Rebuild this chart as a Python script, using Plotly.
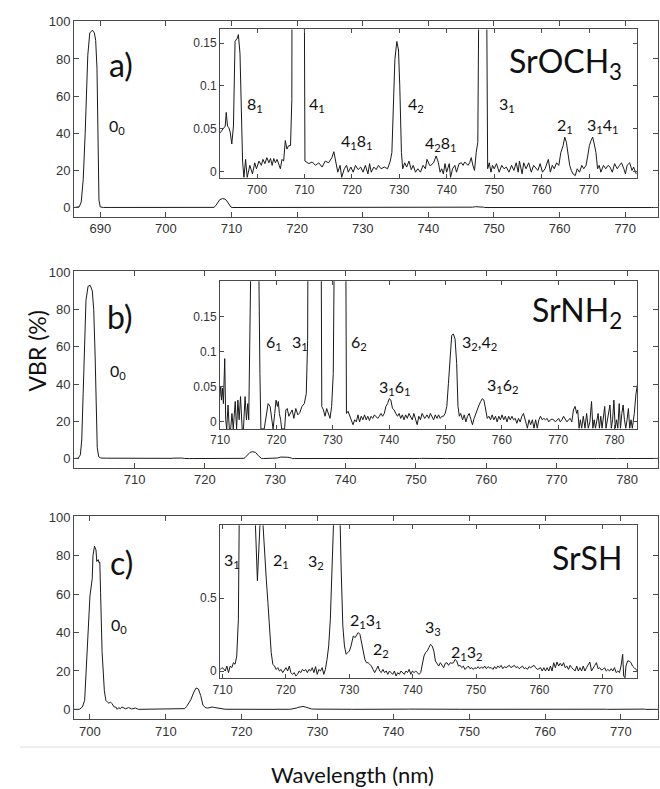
import plotly.graph_objects as go

W, H = 660, 789

# ---------------- data (wavelength in nm, VBR in %) ----------------
# Panel a : SrOCH3
wl_a = [686.0, 686.5, 686.8, 687.1, 687.4, 687.7, 687.9, 688.1, 688.4, 688.8, 689.1, 689.3, 689.5, 689.6,
        689.7, 689.8, 690.0, 690.5, 691.5,
        692.25, 692.80, 693.29, 693.50, 693.77, 694.05, 694.33, 694.67, 695.02, 695.36, 695.85, 696.06,
        696.40, 696.95, 697.23, 697.58, 697.92, 698.48, 699.03, 699.51, 699.86, 700.41, 700.90, 701.24,
        701.66, 702.07, 702.49, 702.83, 703.18, 703.52, 703.87, 704.22, 704.56, 704.91, 705.25, 705.60,
        705.95, 706.29, 706.64, 707.05, 707.33, 707.6, 707.9, 708.2, 708.6, 709.0, 709.3, 709.6, 709.9,
        710.09, 710.92, 711.62, 712.31, 713.0, 713.69, 714.38, 715.07, 715.77, 716.18, 716.6, 717.01,
        717.5, 717.84, 718.39, 718.88, 719.22, 719.78, 720.26, 720.75, 721.3, 721.85, 722.34, 722.82,
        723.37, 723.72, 724.07, 724.62, 725.1, 725.59, 726.14, 726.83, 727.52, 728.08, 728.42, 728.7,
        729.05, 729.46, 729.81, 730.08, 730.43, 730.7, 731.12, 731.54, 732.02, 732.5, 732.92, 733.4,
        733.89, 734.44, 734.99, 735.48, 735.82, 736.38, 736.64, 737.2, 737.75, 738.23, 738.58, 738.92,
        739.27, 739.62, 739.96, 740.51, 740.79, 741.21, 741.69, 742.04, 742.59, 743.07, 743.42, 743.77,
        744.11, 744.46, 744.8, 745.15, 745.49, 745.84, 746.19, 746.53, 746.74, 747.2, 747.6, 748.0,
        748.4, 748.61, 748.95, 749.3, 749.64, 749.99, 750.47, 751.03, 751.58, 752.06, 752.55, 753.1,
        753.65, 754.14, 754.62, 755.04, 755.31, 755.87, 756.21, 756.7, 757.25, 757.8, 758.29, 758.77,
        759.19, 759.67, 760.16, 760.71, 761.4, 761.82, 762.23, 762.65, 763.13, 763.61, 764.03, 764.51,
        764.86, 765.2, 765.55, 765.9, 766.24, 766.59, 767.07, 767.49, 767.97, 768.45, 768.87, 769.35,
        769.7, 770.05, 770.39, 770.74, 771.08, 771.43, 771.78, 772.12, 772.47, 773.02, 773.5, 773.99,
        774.4, 774.89, 775.37, 775.92, 776.41, 776.82, 777.31, 777.65, 778.0, 778.55, 779.03, 779.38,
        779.93]
vbr_a = [0, 0.1, 0.4, 3, 15, 40, 65, 82, 94, 95.5, 94, 90, 75, 55,
         25, 4, 0.3, 0.05, 0.04,
         0.045, 0.049, 0.053, 0.069, 0.053, 0.051, 0.046, 0.032, 0.053, 0.152, 0.156, 0.160,
         0.138, 0.011, -0.007, 0.014, -0.007, 0.007, -0.003, 0.010, 0.003, 0.012, 0.007, 0.014,
         0.009, 0.016, 0.010, 0.015, 0.007, 0.015, 0.010, 0.014, 0.007, 0.003, 0.014, 0.012,
         0.036, 0.026, 0.030, 0.030, 0.084, 1.0, 2.5, 4.2, 4.8, 4.6, 3.5, 1.5, 0.3,
         0.012, 0.009, 0.011, 0.007, 0.010, 0.005, 0.012, 0.010, 0.016, 0.023, 0.012, -0.001,
         0.007, -0.007, 0.003, 0.007, -0.001, 0.005, -0.001, 0.007, 0.002, 0.005, -0.001, 0.007,
         -0.003, 0.009, -0.001, 0.005, 0.002, 0.007, 0.003, 0.005, 0.003, 0.012, 0.022, 0.073,
         0.131, 0.152, 0.142, 0.100, 0.022, 0.003, 0.010, 0.005, 0.012, 0.002, 0.007, -0.001,
         0.003, -0.001, 0.007, 0.003, 0.014, 0.007, 0.007, 0.010, 0.018, 0.010, -0.001, 0.003,
         -0.003, 0.009, -0.001, 0.009, -0.007, 0.003, 0.007, -0.001, 0.009, 0.010, 0.007, 0.011,
         0.009, 0.007, 0.010, 0.016, 0.007, 0.001, 0.022, 0.034, 0.2, 0.45, 0.5, 0.45,
         0.2, 0.003, 0.010, -0.001, 0.007, 0.003, 0.009, -0.001, 0.007, 0.003, 0.005, -0.001,
         0.007, 0.001, 0.010, -0.001, 0.012, -0.003, 0.010, 0.003, 0.010, -0.001, 0.007, 0.003,
         0.001, 0.009, -0.001, 0.003, 0.014, -0.001, 0.007, 0.003, 0.010, 0.007, 0.022, 0.030,
         0.040, 0.034, 0.022, 0.007, 0.001, -0.003, -0.005, 0.003, -0.001, 0.007, 0.003, 0.007,
         0.018, 0.030, 0.036, 0.040, 0.032, 0.022, 0.003, 0.007, -0.001, 0.007, 0.003, 0.007,
         0.005, -0.001, 0.009, 0.003, 0.007, 0.010, 0.003, -0.003, 0.007, 0.010, 0.001, 0.005,
         -0.003]

# Panel b : SrNH2
wl_b = [701.4, 702.0, 702.3, 702.5, 702.7, 702.9, 703.1, 703.4, 703.7, 704.0, 704.2, 704.4, 704.55,
        704.7, 704.9, 705.2, 706.0, 708.0, 709.5,
        709.95, 710.12, 710.24, 710.42, 710.59, 710.83, 711.0, 711.18, 711.41, 711.64, 711.88, 712.11,
        712.34, 712.69, 712.93, 713.16, 713.39, 713.63, 713.92, 714.15, 714.44, 714.68, 714.91, 715.09,
        715.32, 715.5, 716.2, 716.84, 717.07, 717.25, 717.83, 718.3, 718.53, 718.88, 719.17, 719.41,
        719.7, 719.93, 720.17, 720.34, 720.52, 720.75, 720.93, 721.22, 721.45, 721.68, 721.92, 722.21,
        722.5, 722.79, 723.09, 723.44, 723.79, 724.14, 724.54, 724.95, 725.3, 725.54, 725.71, 726.0,
        726.4, 726.8, 727.2, 727.6, 727.87, 728.05, 728.34, 728.63, 728.92, 729.22, 729.51, 729.8,
        730.09, 730.32, 730.8, 731.3, 731.8, 732.31, 732.43, 732.72, 733.01, 733.3, 733.59, 733.89,
        734.18, 734.47, 734.76, 735.05, 735.34, 735.64, 735.93, 736.22, 736.51, 736.8, 737.1, 737.39,
        737.68, 737.97, 738.26, 738.56, 738.85, 739.14, 739.43, 739.72, 740.02, 740.31, 740.6, 740.89,
        741.18, 741.48, 741.77, 742.06, 742.35, 742.64, 742.93, 743.23, 743.52, 743.81, 744.1, 744.39,
        744.69, 744.98, 745.27, 745.56, 745.85, 746.32, 746.73, 747.03, 747.32, 747.61, 747.9, 748.19,
        748.49, 748.78, 749.07, 749.36, 749.65, 749.94, 750.24, 750.53, 750.82, 751.11, 751.4, 751.7,
        751.99, 752.22, 752.46, 752.69, 753.04, 753.33, 753.62, 753.91, 754.21, 754.5, 754.79, 755.08,
        755.37, 755.67, 755.96, 756.25, 756.54, 756.83, 757.13, 757.42, 757.71, 758.0, 758.29, 758.58,
        758.88, 759.17, 759.46, 759.75, 760.04, 760.34, 760.63, 760.92, 761.21, 761.5, 761.8, 762.09,
        762.38, 762.67, 762.96, 763.26, 763.55, 763.84, 764.25, 764.54, 764.83, 765.12, 765.42, 765.71,
        766.0, 766.29, 766.58, 766.87, 767.17, 767.46, 767.75, 768.04, 768.33, 768.63, 768.92, 769.21,
        769.5, 769.79, 770.09, 770.38, 770.67, 770.96, 771.25, 771.55, 771.84, 772.13, 772.42, 772.71,
        773.0, 773.3, 773.47, 773.71, 773.94, 774.17, 774.46, 774.76, 775.05, 775.34, 775.63, 775.92,
        776.16, 776.39, 776.62, 776.86, 777.09, 777.32, 777.56, 777.79, 778.03, 778.26, 778.49, 778.73,
        778.96, 779.19, 779.43, 779.66, 779.89, 780.13, 780.36, 780.59, 780.83, 781.06, 781.3, 781.53,
        781.76, 782.0, 782.23, 782.46, 782.7, 782.93, 783.16, 783.51, 783.81, 784.1, 784.4]
vbr_b = [0, 0.2, 2, 10, 35, 65, 85, 92.5, 93, 90, 80, 55, 25,
         6, 1, 0.3, 0.2, 0.1, 0.05,
         0.036, 0.050, 0.031, 0.048, 0.026, 0.090, 0.003, -0.010, 0.024, -0.010, -0.010, 0.012,
         -0.010, 0.029, -0.010, 0.031, 0.003, 0.036, -0.010, -0.010, 0.036, 0.003, 0.026, 0.003,
         0.116, 0.25, 0.35, 0.25, 0.069, -0.010, -0.010, 0.012, 0.026, 0.022, 0.003, -0.010,
         0.012, 0.031, 0.022, 0.029, 0.012, 0.003, -0.010, -0.010, -0.010, 0.017, 0.019, 0.008,
         0.012, 0.017, 0.005, 0.019, 0.010, 0.013, 0.022, 0.026, 0.040, 0.116, 0.5, 1.8,
         3.3, 3.7, 3.3, 1.5, 0.4, 0.022, 0.017, 0.008, 0.019, 0.010, 0.005, 0.022,
         0.069, 0.3, 0.8, 0.9, 0.7, 0.25, 0.012, 0.015, 0.008, 0.003, -0.004, 0.003,
         0.000, 0.010, 0.000, 0.008, 0.003, 0.010, 0.003, 0.008, 0.002, 0.008, 0.005, 0.010,
         0.008, 0.005, 0.008, 0.012, 0.008, 0.012, 0.022, 0.026, 0.033, 0.031, 0.019, 0.017,
         0.012, 0.008, 0.012, 0.005, 0.010, 0.003, 0.010, 0.005, 0.012, 0.008, 0.003, 0.012,
         0.003, -0.004, 0.008, 0.003, 0.012, 0.005, 0.010, 0.005, 0.012, 0.008, 0.003, 0.010,
         0.005, 0.010, 0.005, 0.008, 0.008, 0.012, 0.022, 0.055, 0.092, 0.123, 0.125, 0.118,
         0.083, 0.022, 0.008, 0.012, 0.003, 0.010, 0.000, 0.008, 0.012, 0.003, -0.004, 0.005,
         0.012, 0.019, 0.024, 0.029, 0.033, 0.031, 0.017, 0.005, 0.008, 0.003, 0.010, 0.003,
         0.008, 0.000, 0.008, 0.003, 0.010, 0.003, 0.008, 0.000, 0.008, 0.003, 0.008, 0.003,
         0.005, -0.002, 0.005, 0.000, 0.008, 0.012, 0.000, -0.009, 0.003, -0.004, 0.003, -0.009,
         0.003, -0.009, 0.003, 0.008, 0.003, 0.005, 0.003, 0.005, 0.000, 0.003, 0.004, 0.003,
         0.000, 0.003, 0.005, 0.000, 0.003, 0.008, 0.003, 0.000, 0.003, 0.005, 0.000, 0.017,
         0.022, 0.012, 0.017, -0.009, 0.003, -0.009, 0.008, -0.009, 0.012, -0.009, 0.000, 0.029,
         -0.009, 0.003, -0.009, 0.003, 0.012, -0.009, 0.008, -0.009, 0.012, 0.022, -0.009, 0.003,
         0.008, 0.024, -0.009, 0.003, 0.031, -0.009, 0.003, -0.009, 0.026, -0.009, 0.012, 0.024,
         0.003, -0.009, 0.003, 0.019, -0.009, 0.003, -0.009, 0.012, 0.040, 0.059, 0.07]

# Panel c : SrSH
wl_c = [697.9, 698.6, 699.0, 699.3, 699.5, 699.7, 700.0, 700.3, 700.4, 700.6, 700.8, 700.9, 701.1,
        701.2, 701.3, 701.4, 701.6, 701.9, 702.1, 702.3, 702.5, 702.7, 702.9, 703.2, 703.4, 703.6,
        703.8, 704.0, 704.2, 704.7, 705.1, 705.5, 706.0, 706.4, 708.0, 709.3,
        709.64, 709.9, 710.15, 710.41, 710.67, 710.93, 711.19, 711.45, 711.71, 711.97, 712.23, 712.49,
        712.75, 713.0, 713.3, 713.7, 714.0, 714.3, 714.6, 714.9, 715.18, 715.49, 715.86, 716.1,
        716.38, 716.63, 716.89, 717.15, 717.41, 717.67, 717.93, 718.19, 718.45, 718.71, 718.97, 719.23,
        719.49, 719.74, 720.0, 720.26, 720.52, 720.78, 721.04, 721.3, 721.56, 721.82, 722.08, 722.34,
        722.6, 722.86, 723.11, 723.37, 723.63, 723.89, 724.15, 724.41, 724.67, 724.93, 725.19, 725.45,
        725.71, 725.97, 726.22, 726.48, 726.74, 727.0, 727.26, 727.42, 727.8, 728.1, 728.4, 728.56,
        728.71, 728.97, 729.23, 729.49, 729.75, 730.01, 730.27, 730.48, 730.63, 730.89, 731.15, 731.41,
        731.67, 731.93, 732.19, 732.45, 732.7, 732.96, 733.22, 733.48, 733.74, 734.0, 734.26, 734.52,
        734.78, 735.04, 735.3, 735.56, 735.82, 736.07, 736.33, 736.59, 736.85, 737.11, 737.37, 737.63,
        737.89, 738.15, 738.41, 738.67, 738.93, 739.18, 739.44, 739.7, 739.96, 740.22, 740.48, 740.74,
        741.0, 741.26, 741.52, 741.78, 742.03, 742.29, 742.55, 742.81, 743.07, 743.33, 743.58, 743.84,
        744.1, 744.36, 744.62, 744.88, 745.14, 745.4, 745.66, 745.92, 746.18, 746.44, 746.69, 746.95,
        747.21, 747.47, 747.73, 747.99, 748.25, 748.51, 748.77, 749.03, 749.29, 749.55, 749.81, 750.06,
        750.32, 750.58, 750.84, 751.1, 751.36, 751.62, 751.88, 752.14, 752.4, 752.66, 752.92, 753.17,
        753.43, 753.69, 753.95, 754.21, 754.47, 754.73, 754.99, 755.25, 755.51, 755.77, 756.03, 756.29,
        756.54, 756.8, 757.06, 757.32, 757.58, 757.84, 758.1, 758.36, 758.62, 758.88, 759.14, 759.4,
        759.65, 759.91, 760.17, 760.43, 760.69, 760.95, 761.21, 761.47, 761.73, 761.99, 762.25, 762.51,
        762.77, 763.02, 763.28, 763.54, 763.8, 764.06, 764.32, 764.58, 764.84, 765.1, 765.36, 765.62,
        765.88, 766.14, 766.39, 766.65, 766.91, 767.17, 767.43, 767.69, 767.95, 768.21, 768.47, 768.73,
        768.99, 769.25, 769.5, 769.76, 770.02, 770.28, 770.54, 770.8, 771.06, 771.32, 771.58, 771.84,
        772.1, 772.36, 772.62, 772.87, 773.13, 773.29, 773.5, 773.65, 773.91, 774.17, 774.43, 774.69,
        774.95, 775.21, 775.47]
vbr_c = [0, 0, 1.2, 4.6, 20, 39, 59, 68, 80, 85, 83, 77, 78,
         76.4, 76.7, 61, 30, 9.7, 4.6, 3.8, 3.2, 3.8, 3.0, 1.2, 1.2, 0,
         0.9, 0.3, 1.2, 0.3, 0.9, 0.2, 0.7, 0, 0, 0.01,
         0.011, 0.023, 0.016, 0.000, 0.034, -0.011, 0.034, 0.023, 0.057, 0.046, 0.103, 0.356,
         1.5, 3.0, 5.0, 9.0, 11.1, 10.6, 7.2, 2.2, 1.0, 0.62, 1.0, 1.2,
         1.0, 0.768, 0.631, 0.470, 0.264, 0.126, 0.046, 0.034, 0.011, 0.023, 0.000, 0.011,
         -0.011, 0.011, 0.023, 0.000, 0.034, -0.011, -0.023, -0.011, -0.034, -0.023, 0.000, -0.011,
         0.011, 0.000, 0.011, -0.011, 0.011, 0.000, 0.023, -0.011, 0.030, -0.023, 0.011, 0.000,
         0.023, -0.023, 0.011, 0.080, 0.172, 0.356, 0.700, 1.0, 1.4, 1.5, 1.2, 1.0,
         0.700, 0.310, 0.172, 0.115, 0.126, 0.138, 0.172, 0.218, 0.241, 0.229, 0.252, 0.264,
         0.252, 0.195, 0.115, 0.080, 0.057, 0.057, 0.046, 0.034, 0.011, -0.011, 0.011, 0.034,
         0.000, -0.011, 0.011, -0.011, 0.000, -0.023, 0.000, -0.011, -0.023, 0.000, -0.034, -0.011,
         -0.023, 0.000, -0.011, -0.023, 0.000, -0.011, 0.011, -0.023, 0.000, -0.011, 0.000, -0.011,
         -0.023, -0.011, 0.057, 0.103, 0.126, 0.138, 0.161, 0.183, 0.172, 0.138, 0.069, 0.046,
         0.034, 0.057, 0.039, 0.023, 0.053, 0.057, 0.039, 0.057, 0.053, 0.057, 0.080, 0.069,
         0.034, 0.039, 0.023, 0.034, 0.011, 0.023, 0.034, 0.016, 0.023, 0.011, 0.023, 0.016,
         0.030, 0.016, 0.028, 0.018, 0.034, 0.016, 0.030, 0.021, 0.023, 0.011, 0.030, 0.016,
         0.034, 0.023, 0.039, 0.016, 0.030, 0.023, 0.034, 0.039, 0.023, 0.034, 0.039, 0.023,
         0.030, 0.016, 0.023, 0.034, 0.016, 0.023, 0.011, 0.030, 0.023, 0.034, 0.039, 0.023,
         0.011, 0.016, 0.023, 0.000, 0.023, 0.000, 0.023, 0.000, 0.034, 0.000, 0.057, 0.023,
         0.062, 0.034, 0.053, 0.034, 0.057, 0.023, 0.034, 0.011, 0.039, 0.023, 0.011, 0.000,
         0.034, 0.000, 0.023, 0.000, 0.034, 0.000, 0.023, 0.046, 0.062, 0.000, 0.023, 0.039,
         0.057, 0.016, 0.023, 0.007, 0.011, 0.023, 0.000, 0.011, 0.000, 0.016, 0.000, 0.023,
         -0.011, 0.000, -0.011, 0.034, 0.115, -0.034, -0.046, 0.034, 0.069, 0.069, 0.057, 0.034,
         0.023, 0.011, 0.000]

# axis ranges and ticks
main_xrange = {"a": [686.0, 775.0], "b": [701.4, 784.4], "c": [697.9, 774.9]}
main_xticks = {"a": [690, 700, 710, 720, 730, 740, 750, 760, 770],
               "b": [710, 720, 730, 740, 750, 760, 770, 780],
               "c": [700, 710, 720, 730, 740, 750, 760, 770]}
main_yticks = [0, 20, 40, 60, 80, 100]
inset_xrange = {"a": [692.2, 780.1], "b": [710.0, 784.0], "c": [709.6, 775.4]}
inset_xticks = {"a": [700, 710, 720, 730, 740, 750, 760, 770],
                "b": [710, 720, 730, 740, 750, 760, 770, 780],
                "c": [710, 720, 730, 740, 750, 760, 770]}
inset_yrange = {"a": [-0.008, 0.166], "b": [-0.01, 0.2], "c": [-0.05, 1.0]}
inset_yticks = {"a": [0, 0.05, 0.1, 0.15], "b": [0, 0.05, 0.1, 0.15], "c": [0, 0.5]}
inset_yticktext = {"a": ["0", "0.05", "0.1", "0.15"], "b": ["0", "0.05", "0.1", "0.15"], "c": ["0", "0.5"]}

molecules = {"a": "SrOCH<sub>3</sub>", "b": "SrNH<sub>2</sub>", "c": "SrSH"}
peak_labels = {
    "a": [("8<sub>1</sub>", 239, 98), ("4<sub>1</sub>", 302, 98), ("4<sub>1</sub>8<sub>1</sub>", 334, 136),
          ("4<sub>2</sub>", 402, 98), ("4<sub>2</sub>8<sub>1</sub>", 419, 138), ("3<sub>1</sub>", 494, 98),
          ("2<sub>1</sub>", 553, 120), ("3<sub>1</sub>4<sub>1</sub>", 584, 120)],
    "b": [("6<sub>1</sub>", 258, 338), ("3<sub>1</sub>", 284, 338), ("6<sub>2</sub>", 344, 339),
          ("3<sub>1</sub>6<sub>1</sub>", 373, 384), ("3<sub>2</sub>,4<sub>2</sub>", 457, 339),
          ("3<sub>1</sub>6<sub>2</sub>", 482, 382)],
    "c": [("3<sub>1</sub>", 215, 558), ("2<sub>1</sub>", 265, 558), ("3<sub>2</sub>", 301, 559),
          ("2<sub>1</sub>3<sub>1</sub>", 343, 619), ("2<sub>2</sub>", 367, 648), ("3<sub>3</sub>", 419, 626),
          ("2<sub>1</sub>3<sub>2</sub>", 446, 651)],
}

# ---------------- layout geometry (pixels) ----------------
MAIN_X = (65, 658)
INSET_X = (213.3, 636.7)
main_y = {"a": (14, 211.7), "b": (266.7, 465), "c": (514, 718.3)}
inset_y = {"a": (22.7, 172.7), "b": (276.7, 425.7), "c": (523, 677.3)}
panel_letter_pos = {"a": (113, 58), "b": (112, 312), "c": (113, 560)}
zero_label_pos = {"a": (98, 121), "b": (99, 368), "c": (101, 624)}
molecule_pos = {"a": 56, "b": 308, "c": 555}


def px(x):
    return x / W


def py(y):
    return 1 - y / H


AX_COLOR = "#4a4a4a"
TICK_FONT = dict(family="Liberation Sans, Arial, sans-serif", size=13, color="#333333")
INSET_TICK_FONT = dict(family="Liberation Sans, Arial, sans-serif", size=12, color="#333333")
LABEL_FAMILY = "Lato, Open Sans, sans-serif"

fig = go.Figure()
data = {"a": (wl_a, vbr_a), "b": (wl_b, vbr_b), "c": (wl_c, vbr_c)}
layout = {}
annotations = []

for i, p in enumerate(["a", "b", "c"]):
    mi = 2 * i + 1
    ii = 2 * i + 2
    wl, v = data[p]
    mx, my = ("x" if mi == 1 else f"x{mi}"), ("y" if mi == 1 else f"y{mi}")
    ix, iy = f"x{ii}", f"y{ii}"
    fig.add_trace(go.Scatter(x=wl, y=v, mode="lines", line=dict(color="#1a1a1a", width=1),
                             xaxis=mx, yaxis=my, showlegend=False, hoverinfo="skip"))
    fig.add_trace(go.Scatter(x=wl, y=v, mode="lines", line=dict(color="#1a1a1a", width=1),
                             xaxis=ix, yaxis=iy, showlegend=False, hoverinfo="skip"))
    common = dict(showline=True, linecolor=AX_COLOR, linewidth=1, mirror="ticks", ticks="inside",
                  tickcolor=AX_COLOR, tickwidth=1, showgrid=False, zeroline=False, fixedrange=True)
    mxk = "xaxis" if mi == 1 else f"xaxis{mi}"
    myk = "yaxis" if mi == 1 else f"yaxis{mi}"
    layout[mxk] = dict(common, domain=[px(MAIN_X[0]), px(MAIN_X[1])], range=main_xrange[p],
                       tickvals=main_xticks[p], ticklen=5, tickfont=TICK_FONT, anchor=my)
    layout[myk] = dict(common, domain=[py(main_y[p][1]), py(main_y[p][0])], range=[-5, 100.5],
                       tickvals=main_yticks, ticklen=5, tickfont=TICK_FONT, anchor=mx)
    layout[f"xaxis{ii}"] = dict(common, domain=[px(INSET_X[0]), px(INSET_X[1])], range=inset_xrange[p],
                                tickvals=inset_xticks[p], ticklen=4, tickfont=INSET_TICK_FONT, anchor=iy)
    layout[f"yaxis{ii}"] = dict(common, domain=[py(inset_y[p][1]), py(inset_y[p][0])], range=inset_yrange[p],
                                tickvals=inset_yticks[p], ticktext=inset_yticktext[p], ticklen=4,
                                tickfont=INSET_TICK_FONT, anchor=ix)

    lx, ly = panel_letter_pos[p]
    annotations.append(dict(text=f"{p})", x=px(lx), y=py(ly), xref="paper", yref="paper",
                            showarrow=False, xanchor="center", yanchor="middle",
                            font=dict(family=LABEL_FAMILY, size=32, color="#111111")))
    zx, zy = zero_label_pos[p]
    annotations.append(dict(text="0<sub>0</sub>", x=px(zx), y=py(zy), xref="paper", yref="paper",
                            showarrow=False, xanchor="left", yanchor="middle",
                            font=dict(family=LABEL_FAMILY, size=16, color="#111111")))
    annotations.append(dict(text=molecules[p], x=px(623), y=py(molecule_pos[p]), xref="paper", yref="paper",
                            showarrow=False, xanchor="right", yanchor="middle",
                            font=dict(family=LABEL_FAMILY, size=32, color="#111111")))
    for t, lx, ly in peak_labels[p]:
        annotations.append(dict(text=t, x=px(lx), y=py(ly), xref="paper", yref="paper",
                                showarrow=False, xanchor="left", yanchor="middle",
                                font=dict(family=LABEL_FAMILY, size=16, color="#111111")))

annotations.append(dict(text="VBR (%)", x=px(27), y=py(347), xref="paper", yref="paper", textangle=-90,
                        showarrow=False, xanchor="center", yanchor="middle",
                        font=dict(family=LABEL_FAMILY, size=23, color="#111111")))
annotations.append(dict(text="Wavelength (nm)", x=px(348), y=py(774), xref="paper", yref="paper",
                        showarrow=False, xanchor="center", yanchor="middle",
                        font=dict(family=LABEL_FAMILY, size=22, color="#111111")))

fig.update_layout(
    width=W, height=H,
    margin=dict(l=0, r=0, t=0, b=0),
    paper_bgcolor="white", plot_bgcolor="white",
    annotations=annotations,
    shapes=[dict(type="line", xref="paper", yref="paper", x0=px(10), x1=px(660), y0=py(746.7), y1=py(746.7),
                 line=dict(color="#dddddd", width=1))],
    **layout,
)

fig.write_html("out.html", config={"displayModeBar": False},
               post_script="document.body.style.margin='0';document.body.style.overflow='hidden';")
